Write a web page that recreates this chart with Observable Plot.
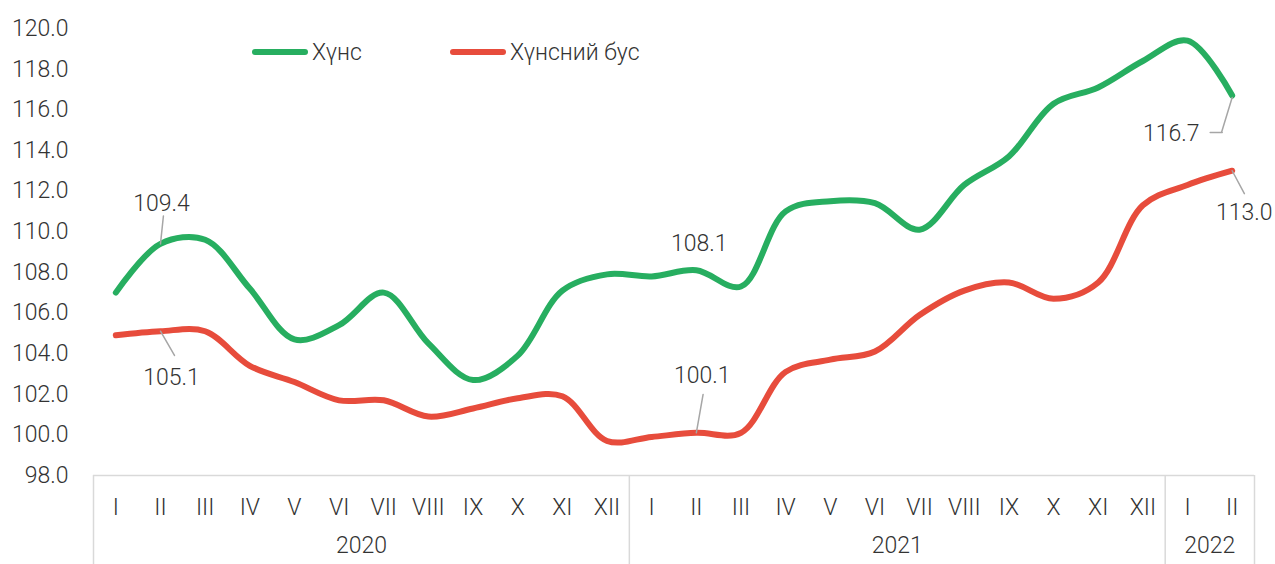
<!DOCTYPE html>
<html><head><meta charset="utf-8">
<script src="https://cdn.jsdelivr.net/npm/d3@7"></script>
<script src="https://cdn.jsdelivr.net/npm/@observablehq/plot@0.6"></script>
<style>
body{margin:0;background:#fff;}
#wrap{position:relative;width:1275px;height:564px;overflow:hidden;font-family:Roboto,sans-serif;color:#333;}
#wrap svg{position:absolute;left:0;top:0;}
.lg{position:absolute;top:38px;height:28px;display:flex;align-items:center;font-size:23px;font-weight:300;color:#333;}
.lg i{display:inline-block;width:56px;height:6px;border-radius:3px;margin-right:4px;}
</style></head><body><div id="wrap"></div>
<script>
// ---- data ----
const months = ["I","II","III","IV","V","VI","VII","VIII","IX","X","XI","XII",
                "I","II","III","IV","V","VI","VII","VIII","IX","X","XI","XII",
                "I","II"];
const years = ["2020","2021","2022"];
const monthsPerYear = [12, 12, 2];
const seriesNames = ["Хүнс", "Хүнсний бус"];
const food = [107.0,109.4,109.6,107.2,104.7,105.4,107.0,104.5,102.7,103.9,107.1,107.9,
              107.8,108.1,107.3,111.0,111.5,111.4,110.1,112.3,113.7,116.3,117.1,118.4,
              119.4,116.7];
const nonFood = [104.9,105.1,105.1,103.4,102.6,101.7,101.7,100.9,101.3,101.8,101.9,99.7,
                 99.9,100.1,100.1,103.1,103.7,104.1,105.9,107.1,107.5,106.7,107.5,111.3,
                 112.3,113.0];
const yTicks = d3.range(98, 121, 2);
// callouts: which series / month index is labelled
const callouts = [
  {s: 0, i: 1}, {s: 1, i: 1}, {s: 0, i: 13}, {s: 1, i: 13}, {s: 0, i: 25}, {s: 1, i: 25}
];

// ---- styling ----
const colors = ["#27ae60", "#e74c3c"];
const textColor = "#333333";
const boxColor = "#d9d9d9";
const fs = 23;
const calloutStyle = [
  {dx: 1, dy: -40, leaders: [{len: 28, rot: 6}]},
  {dx: 11, dy: 46, leaders: [{len: 28, rot: 150}]},
  {dx: 3, dy: -27, leaders: []},
  {dx: 6, dy: -57, leaders: [{len: 39, rot: 10}]},
  {dx: -61, dy: 38, leaders: [{len: 36, rot: 197, dx: 0, dy: 2}, {len: 12, rot: 270, dx: -10, dy: 37}]},
  {dx: 12, dy: 42, leaders: [{len: 26, rot: 152}]}
];

const seriesData = [food, nonFood];
const rows = seriesData.flatMap((arr, s) => arr.map((v, i) => ({i, v, s: seriesNames[s]})));

// year spans
let start = 0;
const yearSpans = years.map((y, k) => {
  const r = {year: y, a: start - 0.5, b: start + monthsPerYear[k] - 0.5};
  start += monthsPerYear[k];
  r.c = (r.a + r.b) / 2;
  return r;
});
const boundaries = [yearSpans[0].a, ...yearSpans.map(d => d.b)];

const line = {draw(ctx, l) { ctx.moveTo(0, 0); ctx.lineTo(0, -l); }};

const calloutMarks = callouts.flatMap((c, k) => {
  const st = calloutStyle[k];
  const d = [{i: c.i, v: seriesData[c.s][c.i]}];
  const marks = st.leaders.map(L => Plot.vector(d, {
    x: "i", y: "v", length: L.len, rotate: L.rot, anchor: "start",
    shape: line, stroke: "#a6a6a6", strokeWidth: 1.5, dx: L.dx || 0, dy: L.dy || 0
  }));
  marks.push(Plot.text(d, {
    x: "i", y: "v", text: r => r.v.toFixed(1), dx: st.dx, dy: st.dy,
    fontSize: fs, fontWeight: 300, fill: textColor
  }));
  return marks;
});

const chart = Plot.plot({
  width: 1275, height: 564,
  marginLeft: 93, marginRight: 21, marginTop: 28, marginBottom: 89,
  style: {fontFamily: "Roboto, sans-serif", fontSize: fs + "px", fontWeight: 300, color: textColor, background: "#fff"},
  x: {type: "linear", domain: [-0.5, months.length - 0.5]},
  y: {domain: [98, 120]},
  color: {domain: seriesNames, range: colors},
  marks: [
    Plot.axisY({ticks: yTicks, tickSize: 0, tickPadding: 25, tickFormat: d => d.toFixed(1), label: null, fill: textColor, fontSize: fs}),
    Plot.axisX({ticks: d3.range(months.length), tickSize: 0, tickPadding: 23, tickFormat: i => months[i], label: null, fill: textColor, fontSize: fs}),
    Plot.axisX({ticks: boundaries, tickSize: 89, tickFormat: () => "", label: null, stroke: boxColor, strokeWidth: 1.5}),
    Plot.ruleY([98], {stroke: boxColor, strokeWidth: 1.5}),
    Plot.text(yearSpans, {x: "c", text: "year", frameAnchor: "bottom", dy: 77, fontSize: fs, fontWeight: 300, fill: textColor}),
    Plot.line(rows, {x: "i", y: "v", z: "s", stroke: "s", strokeWidth: 6, curve: "catmull-rom", strokeLinecap: "round", strokeLinejoin: "round"}),
    ...calloutMarks
  ]
});
const wrap = document.getElementById("wrap");
wrap.appendChild(chart);

// legend
const legendPos = [252, 450];
seriesNames.forEach((n, k) => {
  const d = document.createElement("div");
  d.className = "lg";
  d.style.left = legendPos[k] + "px";
  d.innerHTML = `<i style="background:${colors[k]}"></i><span>${n}</span>`;
  wrap.appendChild(d);
});
</script></body></html>
